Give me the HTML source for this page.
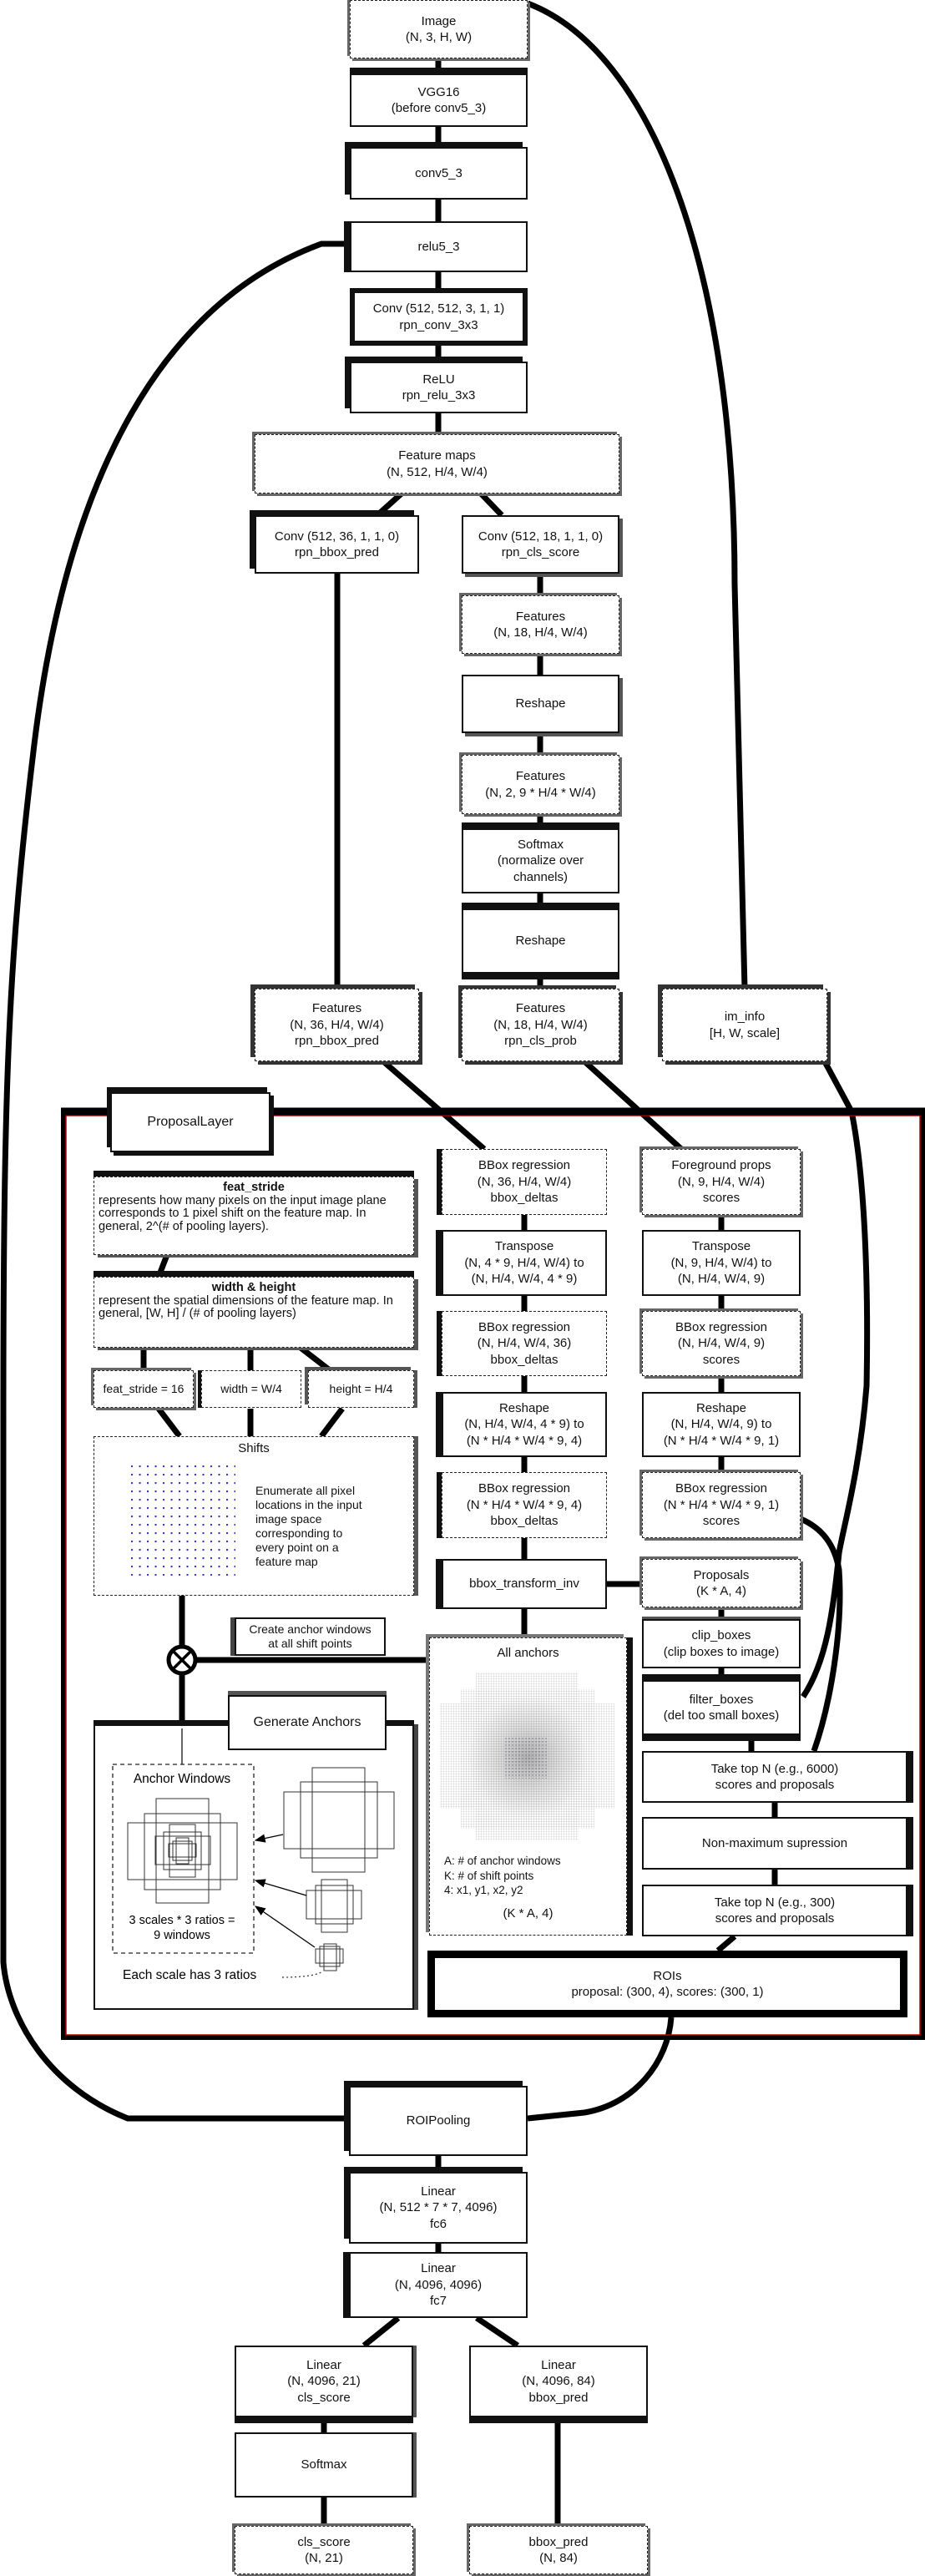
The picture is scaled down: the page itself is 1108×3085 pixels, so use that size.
<!DOCTYPE html>
<html><head><meta charset="utf-8">
<style>
html,body{margin:0;padding:0;background:#fff;}
#c{position:relative;width:1108px;height:3085px;overflow:hidden;background:#fff;}
.b{position:absolute;box-sizing:border-box;background:#fff;border:2px solid #111;display:flex;align-items:center;justify-content:center;text-align:center;font:15px/1.3 "Liberation Sans",sans-serif;color:#111;}
.d{border:1.5px dashed #222;box-shadow:3px 3px 0 #666,-3px -3px 0 #666;}
.tl{box-shadow:-6px -6px 0 #111;}
.tt{box-shadow:0 -7px 0 #111;}
.lf{box-shadow:-7px 0 0 #111;}
.tb{box-shadow:0 -7px 0 #111,0 7px 0 #111;}
.hv{border:6px solid #111;}
.sh{box-shadow:4px 4px 0 #555;}
.p{font-size:14px;}
svg{position:absolute;left:0;top:0;}
</style></head><body><div id="c">
<svg width="1108" height="3085" viewBox="0 0 1108 3085">
<g fill="none" stroke="#000" stroke-width="7">
<line x1="525" y1="70" x2="525" y2="88"/>
<line x1="525" y1="152" x2="525" y2="176"/>
<line x1="525" y1="239" x2="525" y2="265"/>
<line x1="525" y1="326" x2="525" y2="345"/>
<line x1="525" y1="414" x2="525" y2="433"/>
<line x1="525" y1="495" x2="525" y2="520"/>
<line x1="481" y1="591" x2="452" y2="617"/>
<line x1="576" y1="591" x2="601" y2="617"/>
<line x1="404" y1="687" x2="404" y2="1184"/>
<line x1="647" y1="687" x2="647" y2="1184"/>
<path d="M632,4 C780,60 880,320 880,700 L892,1184"/>
<path d="M419,292 L385,292 C200,360 80,560 40,900 C10,1150 4,1300 4,1700 L4,2350 C10,2420 60,2500 153,2537 L418,2537"/>
<path d="M804,2416 C800,2470 760,2520 700,2530 L632,2537"/>
<line x1="459" y1="1271" x2="580" y2="1376"/>
<line x1="700" y1="1271" x2="816" y2="1376"/>
<path d="M985,1266 L1020,1331 C1038,1420 1040,1560 1038,1660 C1030,1760 1010,1830 1005,1860 C998,1930 990,1990 962,2032"/>
<path d="M959,1819 C985,1830 1000,1850 1005,1880 C1010,1950 995,2040 975,2097"/>
<line x1="628" y1="1455" x2="628" y2="1473"/>
<line x1="628" y1="1552" x2="628" y2="1570"/>
<line x1="628" y1="1648" x2="628" y2="1667"/>
<line x1="628" y1="1745" x2="628" y2="1763"/>
<line x1="628" y1="1842" x2="628" y2="1867"/>
<line x1="628" y1="1927" x2="628" y2="1961"/>
<line x1="864" y1="1455" x2="864" y2="1473"/>
<line x1="864" y1="1552" x2="864" y2="1570"/>
<line x1="864" y1="1648" x2="864" y2="1667"/>
<line x1="864" y1="1745" x2="864" y2="1763"/>
<line x1="727" y1="1897" x2="769" y2="1897"/>
<line x1="864" y1="1925" x2="864" y2="1939"/>
<line x1="864" y1="1998" x2="864" y2="2012"/>
<line x1="900" y1="2078" x2="900" y2="2097"/>
<line x1="928" y1="2159" x2="928" y2="2176"/>
<line x1="928" y1="2239" x2="928" y2="2257"/>
<line x1="880" y1="2319" x2="860" y2="2336"/>
<line x1="200" y1="1503" x2="190" y2="1529"/>
<line x1="172" y1="1614" x2="172" y2="1641"/>
<line x1="300" y1="1614" x2="300" y2="1641"/>
<line x1="360" y1="1614" x2="395" y2="1641"/>
<line x1="190" y1="1687" x2="215" y2="1720"/>
<line x1="300" y1="1687" x2="300" y2="1720"/>
<line x1="410" y1="1687" x2="385" y2="1720"/>
<line x1="218" y1="1911" x2="218" y2="2068"/>
<line x1="232" y1="1988" x2="515" y2="1988"/>
<line x1="525" y1="2582" x2="525" y2="2601"/>
<line x1="525" y1="2687" x2="525" y2="2697"/>
<line x1="477" y1="2776" x2="436" y2="2809"/>
<line x1="571" y1="2776" x2="620" y2="2809"/>
<line x1="388" y1="2895" x2="388" y2="2913"/>
<line x1="388" y1="2991" x2="388" y2="3025"/>
<line x1="668" y1="2895" x2="668" y2="3025"/>
</g>
<rect x="76" y="1332" width="1029" height="1108" fill="none" stroke="#000" stroke-width="6"/>
<rect x="79" y="1336" width="1023" height="1101" fill="none" stroke="#b00" stroke-width="1.5"/>
<line x1="73" y1="1331" x2="1108" y2="1331" stroke="#000" stroke-width="9"/>
</svg>

<div class="b d" style="left:419px;top:0;width:213px;height:70px">Image<br>(N, 3, H, W)</div>
<div class="b tt" style="left:419px;top:88px;width:213px;height:64px">VGG16<br>(before conv5_3)</div>
<div class="b tl" style="left:419px;top:176px;width:213px;height:63px">conv5_3</div>
<div class="b lf" style="left:419px;top:265px;width:213px;height:61px">relu5_3</div>
<div class="b hv" style="left:419px;top:345px;width:213px;height:69px">Conv (512, 512, 3, 1, 1)<br>rpn_conv_3x3</div>
<div class="b tl" style="left:419px;top:433px;width:213px;height:62px">ReLU<br>rpn_relu_3x3</div>
<div class="b d" style="left:305px;top:520px;width:437px;height:71px">Feature maps<br>(N, 512, H/4, W/4)</div>
<div class="b tl" style="left:305px;top:617px;width:197px;height:70px">Conv (512, 36, 1, 1, 0)<br>rpn_bbox_pred</div>
<div class="b sh" style="left:553px;top:617px;width:189px;height:70px">Conv (512, 18, 1, 1, 0)<br>rpn_cls_score</div>
<div class="b d" style="left:553px;top:713px;width:189px;height:70px">Features<br>(N, 18, H/4, W/4)</div>
<div class="b sh" style="left:553px;top:808px;width:189px;height:70px">Reshape</div>
<div class="b d" style="left:553px;top:904px;width:189px;height:71px">Features<br>(N, 2, 9 * H/4 * W/4)</div>
<div class="b tt" style="left:553px;top:992px;width:189px;height:78px">Softmax<br>(normalize over<br>channels)</div>
<div class="b tb" style="left:553px;top:1088px;width:189px;height:78px">Reshape</div>
<div class="b d" style="left:305px;top:1184px;width:197px;height:87px;box-shadow:-5px -5px 0 #333,4px 4px 0 #333">Features<br>(N, 36, H/4, W/4)<br>rpn_bbox_pred</div>
<div class="b d" style="left:553px;top:1184px;width:189px;height:87px;box-shadow:-4px -4px 0 #333,4px 4px 0 #333">Features<br>(N, 18, H/4, W/4)<br>rpn_cls_prob</div>
<div class="b d" style="left:793px;top:1184px;width:198px;height:87px;box-shadow:-5px -5px 0 #333,4px 4px 0 #333">im_info<br>[H, W, scale]</div>

<div class="b" style="left:132px;top:1308px;width:192px;height:72px;box-shadow:-4px -6px 0 #111,4px 4px 0 #111;font-size:16px">ProposalLayer</div>

<div class="b d p" style="left:112px;top:1409px;width:384px;height:94px;display:block;text-align:left;padding:5px 5px;line-height:15.5px;font-size:14.6px;box-shadow:0 -7px 0 #111,5px 3px 0 #555"><div style="text-align:center;font-weight:bold">feat_stride</div>represents how many pixels on the input image plane corresponds to 1 pixel shift on the feature map. In general, 2^(# of pooling layers).</div>
<div class="b d p" style="left:112px;top:1529px;width:384px;height:85px;display:block;text-align:left;padding:5px 5px;line-height:15.5px;font-size:14.6px;box-shadow:0 -7px 0 #111,5px 3px 0 #555"><div style="text-align:center;font-weight:bold">width &amp; height</div>represent the spatial dimensions of the feature map. In general, [W, H] / (# of pooling layers)</div>
<div class="b d p" style="left:112px;top:1641px;width:120px;height:45px">feat_stride = 16</div>
<div class="b d p" style="left:241px;top:1641px;width:120px;height:45px;box-shadow:-4px 0 0 #111">width = W/4</div>
<div class="b d p" style="left:369px;top:1641px;width:127px;height:45px;box-shadow:-4px -4px 0 #555,4px 0 0 #555">height = H/4</div>
<div class="b d p" style="left:112px;top:1720px;width:384px;height:191px;display:block;box-shadow:5px 0 0 #555">
<div style="text-align:center;margin-top:4px;font-size:15px">Shifts</div>
<div style="position:absolute;left:193px;top:56px;text-align:left;line-height:17px">Enumerate all pixel<br>locations in the input<br>image space<br>corresponding to<br>every point on a<br>feature map</div>
</div>
<div class="b p" style="left:281px;top:1937px;width:181px;height:46px;line-height:17px;box-shadow:-5px 0 0 #444">Create anchor windows<br>at all shift points</div>
<div class="b" style="left:112px;top:2065px;width:384px;height:342px;box-shadow:0 -5px 0 #111,5px 0 0 #444"></div>
<div class="b" style="left:273px;top:2030px;width:190px;height:66px;font-size:16px;box-shadow:0 -5px 0 #555">Generate Anchors</div>

<div class="b d" style="left:529px;top:1376px;width:198px;height:79px;box-shadow:-6px 0 0 #111">BBox regression<br>(N, 36, H/4, W/4)<br>bbox_deltas</div>
<div class="b lf" style="left:529px;top:1473px;width:198px;height:79px">Transpose<br>(N, 4 * 9, H/4, W/4) to<br>(N, H/4, W/4, 4 * 9)</div>
<div class="b d" style="left:529px;top:1570px;width:198px;height:78px;box-shadow:-6px 0 0 #111">BBox regression<br>(N, H/4, W/4, 36)<br>bbox_deltas</div>
<div class="b lf" style="left:529px;top:1667px;width:198px;height:78px">Reshape<br>(N, H/4, W/4, 4 * 9) to<br>(N * H/4 * W/4 * 9, 4)</div>
<div class="b d" style="left:529px;top:1763px;width:198px;height:79px;box-shadow:-6px 0 0 #111">BBox regression<br>(N * H/4 * W/4 * 9, 4)<br>bbox_deltas</div>
<div class="b lf" style="left:529px;top:1867px;width:198px;height:60px">bbox_transform_inv</div>
<div class="b d" style="left:769px;top:1376px;width:190px;height:79px">Foreground props<br>(N, 9, H/4, W/4)<br>scores</div>
<div class="b" style="left:769px;top:1473px;width:190px;height:79px">Transpose<br>(N, 9, H/4, W/4) to<br>(N, H/4, W/4, 9)</div>
<div class="b d" style="left:769px;top:1570px;width:190px;height:78px">BBox regression<br>(N, H/4, W/4, 9)<br>scores</div>
<div class="b" style="left:769px;top:1667px;width:190px;height:78px">Reshape<br>(N, H/4, W/4, 9) to<br>(N * H/4 * W/4 * 9, 1)</div>
<div class="b d" style="left:769px;top:1763px;width:190px;height:79px">BBox regression<br>(N * H/4 * W/4 * 9, 1)<br>scores</div>
<div class="b d" style="left:769px;top:1867px;width:190px;height:58px">Proposals<br>(K * A, 4)</div>
<div class="b" style="left:769px;top:1939px;width:190px;height:59px;box-shadow:0 -3px 0 #555">clip_boxes<br>(clip boxes to image)</div>
<div class="b tb" style="left:769px;top:2012px;width:190px;height:66px">filter_boxes<br>(del too small boxes)</div>
<div class="b" style="left:769px;top:2097px;width:318px;height:62px;box-shadow:7px 0 0 #111">Take top N (e.g., 6000)<br>scores and proposals</div>
<div class="b" style="left:769px;top:2176px;width:318px;height:63px;box-shadow:7px 0 0 #111">Non-maximum supression</div>
<div class="b" style="left:769px;top:2257px;width:318px;height:62px;box-shadow:7px 0 0 #111">Take top N (e.g., 300)<br>scores and proposals</div>
<div class="b" style="left:512px;top:2336px;width:575px;height:80px;border:9px solid #000">ROIs<br>proposal: (300, 4), scores: (300, 1)</div>

<div class="b d" style="left:514px;top:1961px;width:237px;height:357px;display:block;box-shadow:-4px -4px 0 #777,7px 0 0 #111">
<div style="text-align:center;margin-top:8px">All anchors</div>
<div class="p" style="position:absolute;left:17px;top:258px;text-align:left;line-height:17.5px;font-size:13.5px">A: # of anchor windows<br>K: # of shift points<br>4: x1, y1, x2, y2</div>
<div style="position:absolute;left:0;width:100%;top:320px;text-align:center">(K * A, 4)</div>
</div>

<div class="b tl" style="left:418px;top:2498px;width:214px;height:84px">ROIPooling</div>
<div class="b tl" style="left:418px;top:2601px;width:214px;height:86px">Linear<br>(N, 512 * 7 * 7, 4096)<br>fc6</div>
<div class="b lf" style="left:418px;top:2697px;width:214px;height:79px">Linear<br>(N, 4096, 4096)<br>fc7</div>
<div class="b" style="left:281px;top:2809px;width:214px;height:86px;box-shadow:0 7px 0 #111,4px 0 0 #555">Linear<br>(N, 4096, 21)<br>cls_score</div>
<div class="b" style="left:562px;top:2809px;width:214px;height:86px;box-shadow:0 7px 0 #111">Linear<br>(N, 4096, 84)<br>bbox_pred</div>
<div class="b" style="left:281px;top:2913px;width:214px;height:78px;box-shadow:4px 0 0 #555">Softmax</div>
<div class="b d" style="left:281px;top:3025px;width:214px;height:58px">cls_score<br>(N, 21)</div>
<div class="b d" style="left:562px;top:3025px;width:214px;height:58px">bbox_pred<br>(N, 84)</div>

<svg width="1108" height="3085" viewBox="0 0 1108 3085" style="pointer-events:none">
<defs>
<pattern id="dots" x="157" y="1755" width="9.5" height="10" patternUnits="userSpaceOnUse"><circle cx="1" cy="1" r="1.2" fill="#33c"/></pattern>
<pattern id="grid" width="3" height="3" patternUnits="userSpaceOnUse"><path d="M0,0 H3 M0,0 V3" stroke="#bbb" stroke-width="0.6" fill="none"/></pattern>
<radialGradient id="rg"><stop offset="0" stop-color="#888" stop-opacity="0.6"/><stop offset="1" stop-color="#aaa" stop-opacity="0"/></radialGradient>
<pattern id="dots2" x="605" y="2081" width="4" height="4" patternUnits="userSpaceOnUse"><circle cx="1" cy="1" r="0.6" fill="#446"/></pattern>
<marker id="ah" markerWidth="10" markerHeight="8" refX="9" refY="4" orient="auto"><path d="M0,0 L10,4 L0,8 Z" fill="#000"/></marker>
</defs>
<rect x="157" y="1755" width="125" height="132" fill="url(#dots)"/>
<circle cx="218" cy="1988" r="16" fill="#fff" stroke="#000" stroke-width="5"/>
<line x1="208" y1="1978" x2="228" y2="1998" stroke="#000" stroke-width="3.5"/>
<line x1="228" y1="1978" x2="208" y2="1998" stroke="#000" stroke-width="3.5"/>
<line x1="218" y1="2070" x2="218" y2="2113" stroke="#000" stroke-width="1.2"/>
<rect x="135" y="2113" width="169" height="226" fill="none" stroke="#222" stroke-width="1.3" stroke-dasharray="5,4"/>
<text x="218" y="2135" font-family="Liberation Sans,sans-serif" font-size="15.5" text-anchor="middle">Anchor Windows</text>
<g fill="none" stroke="#333" stroke-width="1">
<rect x="153" y="2183" width="131" height="68"/><rect x="173" y="2172" width="91" height="91"/><rect x="187" y="2154" width="63" height="125"/>
<rect x="186" y="2199" width="66" height="34"/><rect x="196" y="2194" width="45" height="45"/><rect x="203" y="2185" width="31" height="63"/>
<rect x="202" y="2208" width="33" height="16"/><rect x="207" y="2205" width="23" height="23"/><rect x="211" y="2201" width="15" height="31"/>
<rect x="340" y="2146" width="132" height="68"/><rect x="360" y="2134" width="92" height="91"/><rect x="374" y="2117" width="63" height="125"/>
<rect x="367" y="2264" width="66" height="34"/><rect x="378" y="2258" width="45" height="46"/><rect x="385" y="2251" width="31" height="63"/>
<rect x="378" y="2334" width="33" height="17"/><rect x="383" y="2331" width="24" height="24"/><rect x="388" y="2328" width="15" height="32"/>
</g>
<g stroke="#000" stroke-width="1.3" marker-end="url(#ah)">
<line x1="339" y1="2197" x2="306" y2="2204"/>
<line x1="367" y1="2270" x2="306" y2="2252"/>
<line x1="377" y1="2332" x2="306" y2="2283"/>
</g>
<path d="M338,2368 C360,2368 380,2366 386,2361" fill="none" stroke="#333" stroke-width="1.2" stroke-dasharray="2,3"/>
<text x="218" y="2304" font-family="Liberation Sans,sans-serif" font-size="14.5" text-anchor="middle">3 scales * 3 ratios =</text>
<text x="218" y="2322" font-family="Liberation Sans,sans-serif" font-size="14.5" text-anchor="middle">9 windows</text>
<text x="147" y="2370" font-family="Liberation Sans,sans-serif" font-size="15.5">Each scale has 3 ratios</text>
<g fill="url(#grid)">
<rect x="527" y="2040" width="209" height="126"/>
<rect x="552" y="2023" width="160" height="167"/>
<rect x="570" y="2003" width="123" height="201"/>
<rect x="565" y="2060" width="133" height="90"/>
<rect x="590" y="2050" width="85" height="110"/>
</g>
<rect x="560" y="2030" width="145" height="150" fill="url(#rg)"/>
<rect x="605" y="2081" width="50" height="49" fill="url(#dots2)"/>
</svg>
</div></body></html>
